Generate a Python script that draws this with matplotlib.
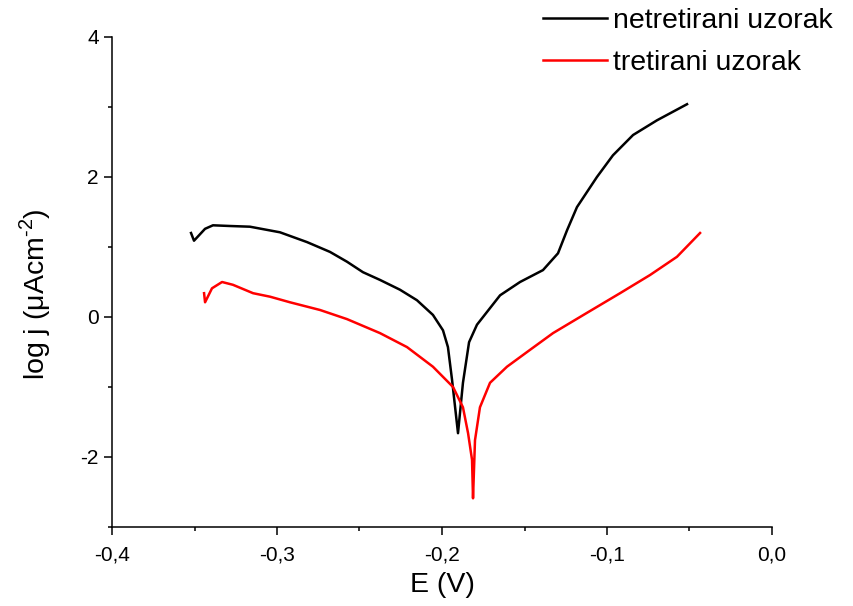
import numpy as np
import matplotlib
matplotlib.use('Agg')
import matplotlib.pyplot as plt
from matplotlib.ticker import MultipleLocator, FuncFormatter

plt.rcParams['font.family'] = ['Liberation Sans', 'DejaVu Sans']
plt.rcParams['mathtext.fontset'] = 'custom'
plt.rcParams['mathtext.rm'] = 'Liberation Sans'

# #############################################################################
# Data: E (V) vs log j
E_untreated = [-0.3521, -0.3503, -0.3436, -0.3388, -0.3285, -0.3164, -0.2982,
               -0.2818, -0.2679, -0.2576, -0.2479, -0.2376, -0.2255, -0.2152,
               -0.2055, -0.1994, -0.1964, -0.1939, -0.1903, -0.1873, -0.1836,
               -0.1788, -0.1648, -0.1527, -0.1388, -0.1297, -0.1242, -0.1182,
               -0.1061, -0.0964, -0.0842, -0.0697, -0.0515]
logj_untreated = [1.20, 1.09, 1.26, 1.31, 1.30, 1.29, 1.21,
                  1.07, 0.93, 0.79, 0.64, 0.53, 0.39, 0.24,
                  0.03, -0.19, -0.43, -0.90, -1.66, -0.94, -0.36,
                  -0.11, 0.31, 0.50, 0.67, 0.91, 1.24, 1.57,
                  2.00, 2.31, 2.60, 2.81, 3.04]

E_treated = [-0.3442, -0.3436, -0.3394, -0.3333, -0.3267, -0.3145, -0.3042,
             -0.2921, -0.2739, -0.2576, -0.2376, -0.2212, -0.2055, -0.1933,
             -0.1873, -0.1842, -0.1818, -0.1812, -0.1800, -0.1770, -0.1709,
             -0.1606, -0.1467, -0.1327, -0.1121, -0.0921, -0.0739, -0.0576,
             -0.0436]
logj_treated = [0.34, 0.21, 0.41, 0.50, 0.46, 0.34, 0.29,
                0.21, 0.10, -0.03, -0.23, -0.43, -0.71, -1.00,
                -1.29, -1.66, -2.04, -2.59, -1.76, -1.29, -0.94,
                -0.71, -0.47, -0.23, 0.06, 0.34, 0.60, 0.86,
                1.20]

labels = ['netretirani uzorak', 'tretirani uzorak']

# #############################################################################
# Plot
fig = plt.figure(figsize=(8.54, 6.06), dpi=100)
ax = fig.add_axes([112/854, 1 - 527/606, 660/854, 490/606])

ax.plot(E_untreated, logj_untreated, color='black', lw=1.8, label=labels[0])
ax.plot(E_treated, logj_treated, color='red', lw=1.8, label=labels[1])

ax.set_xlim(-0.4, 0.0)
ax.set_ylim(-3, 4)
ax.xaxis.set_major_locator(MultipleLocator(0.1))
ax.xaxis.set_minor_locator(MultipleLocator(0.05))
ax.yaxis.set_major_locator(MultipleLocator(2))
ax.yaxis.set_minor_locator(MultipleLocator(1))
ax.xaxis.set_major_formatter(FuncFormatter(lambda v, p: ('%.1f' % v).replace('.', ',')))
ax.yaxis.set_major_formatter(FuncFormatter(lambda v, p: '%d' % round(v)))

for s in ['top', 'right']:
    ax.spines[s].set_visible(False)
for s in ['left', 'bottom']:
    ax.spines[s].set_linewidth(1.1)

ax.tick_params(which='major', direction='out', length=6, width=1.1, labelsize=15)
ax.tick_params(which='minor', direction='out', length=3, width=1.1)
ax.tick_params(axis='x', pad=7)

ax.set_xlabel('E (V)', fontsize=20.5, labelpad=6)
ax.set_ylabel('log j (\u03bcAcm$^{\\text{-2}}$)', fontsize=20.5, labelpad=20)
ax.yaxis.label.set_y(0.475)

fig.legend(loc='upper left', bbox_to_anchor=(543/854, 1 - 8/606), frameon=False,
           fontsize=20.5, handlelength=2.25, handletextpad=0.22, labelspacing=0.55,
           borderpad=0, borderaxespad=0)

plt.savefig('out.png', dpi=100)
